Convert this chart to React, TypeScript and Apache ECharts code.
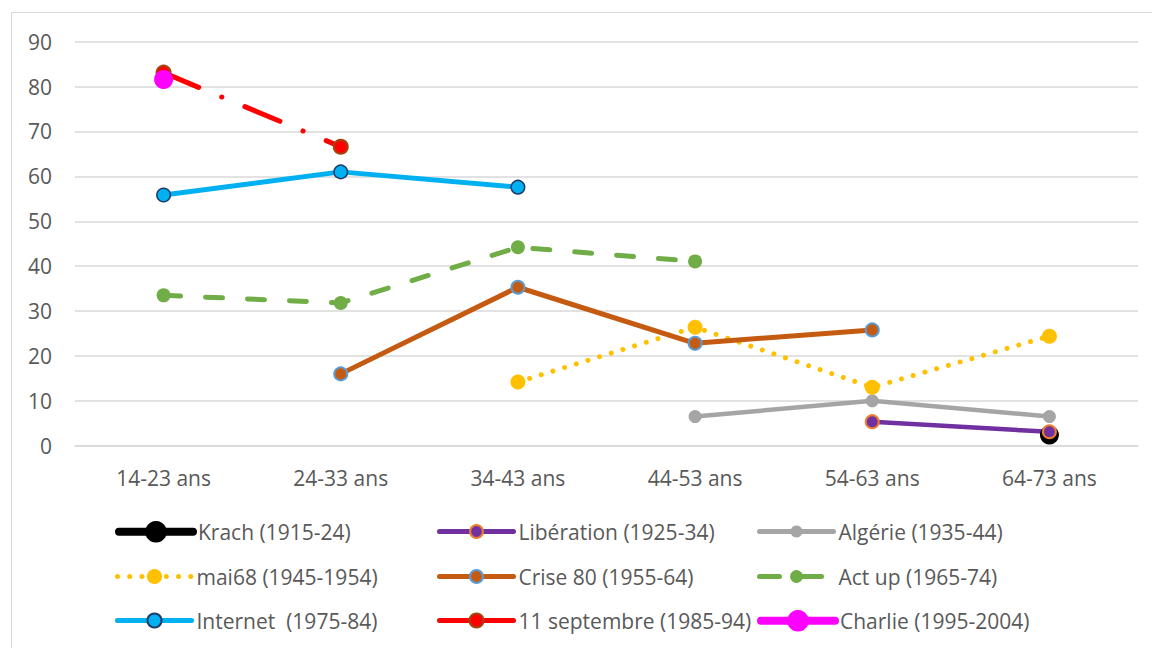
import React, { useEffect, useRef } from "react";
import * as echarts from "echarts";

const categories = ["14-23 ans", "24-33 ans", "34-43 ans", "44-53 ans", "54-63 ans", "64-73 ans"];
const yTicks = { min: 0, max: 90, interval: 10 };

const krach = [null, null, null, null, null, 2.4];
const liberation = [null, null, null, null, 5.35, 3.1];
const algerie = [null, null, null, 6.5, 10.0, 6.5];
const mai68 = [null, null, 14.2, 26.4, 13.0, 24.4];
const crise80 = [null, 16.0, 35.3, 22.8, 25.8, null];
const actup = [33.5, 31.8, 44.2, 41.05, null, null];
const internet = [55.85, 61.0, 57.6, null, null, null];
const septembre = [83.1, 66.6, null, null, null, null];
const charlie = [81.6, null, null, null, null, null];

const seriesNames = [
  "Krach (1915-24)",
  "Libération (1925-34)",
  "Algérie (1935-44)",
  "mai68 (1945-1954)",
  "Crise 80 (1955-64)",
  "Act up (1965-74)",
  "Internet  (1975-84)",
  "11 septembre (1985-94)",
  "Charlie (1995-2004)",
];

const FONT = "Open Sans";
const TEXT = "#595959";

export default function App() {
  const ref = useRef<HTMLDivElement>(null);
  useEffect(() => {
    if (!ref.current) return;
    const chart = echarts.init(ref.current, null, { renderer: "svg" });

    const mk = (
      name: string,
      data: (number | null)[],
      color: string,
      lw: number,
      size: number,
      opts: any = {}
    ) => ({
      name,
      type: "line",
      data,
      connectNulls: false,
      symbol: "circle",
      symbolSize: size,
      showSymbol: true,
      lineStyle: { color, width: lw, cap: "round", join: "round", ...(opts.lineStyle || {}) },
      itemStyle: { color, ...(opts.itemStyle || {}) },
      emphasis: { disabled: true },
      z: 2,
    });

    const series = [
      mk(seriesNames[0], krach, "#000000", 7, 19),
      mk(seriesNames[1], liberation, "#7030A0", 4.5, 13, {
        itemStyle: { borderColor: "#ED7D31", borderWidth: 2 },
      }),
      mk(seriesNames[2], algerie, "#A5A5A5", 4.5, 13),
      mk(seriesNames[3], mai68, "#FFC000", 5, 15, {
        lineStyle: { type: [0.01, 12.2], cap: "round" },
      }),
      mk(seriesNames[4], crise80, "#C55A11", 5, 13, {
        itemStyle: { borderColor: "#5B9BD5", borderWidth: 2 },
      }),
      mk(seriesNames[5], actup, "#70AD47", 5, 14, {
        lineStyle: { type: [17, 25], cap: "round" },
      }),
      mk(seriesNames[6], internet, "#00B0F0", 5, 13.5, {
        itemStyle: { borderColor: "#1F3864", borderWidth: 1.5 },
      }),
      mk(seriesNames[7], septembre, "#FF0000", 5, 14, {
        lineStyle: { type: [38, 25, 0.1, 25], cap: "round" },
        itemStyle: { borderColor: "#9E480E", borderWidth: 2 },
      }),
      mk(seriesNames[8], charlie, "#FF00FF", 7, 19),
    ];

    const legendCols = [110, 432, 752];
    const legendRows = [531, 576, 620];
    const legendItemH = [27, 16, 15, 19, 16, 16, 17.5, 17.5, 27];
    const legendLine: any[] = [
      { width: 8, type: "solid" },
      { width: 5, type: "solid" },
      { width: 5, type: "solid" },
      { width: 5, type: [0.01, 12.2] },
      { width: 5, type: "solid" },
      { width: 5, type: [20, 22] },
      { width: 5, type: "solid" },
      { width: 5, type: "solid" },
      { width: 8, type: "solid" },
    ];
    const legends = seriesNames.map((n, i) => {
      const col = i % 3;
      const row = Math.floor(i / 3);
      const h = legendItemH[i];
      return {
        data: [n],
        left: legendCols[col],
        top: legendRows[row] - 15,
        itemWidth: 74,
        itemHeight: h,
        itemGap: 0,
        selectedMode: false,
        lineStyle: { ...legendLine[i], cap: "round" },
        textStyle: { color: TEXT, fontFamily: FONT, fontSize: 21 },
      };
    });

    chart.setOption({
      animation: false,
      backgroundColor: "#ffffff",
      textStyle: { fontFamily: FONT },
      grid: { left: 75, right: 14, top: 41.7, height: 404, containLabel: false },
      xAxis: {
        type: "category",
        data: categories,
        boundaryGap: true,
        axisLine: { show: true, lineStyle: { color: "#D9D9D9", width: 1.5 } },
        axisTick: { show: false },
        axisLabel: { color: TEXT, fontFamily: FONT, fontSize: 21, margin: 22 },
      },
      yAxis: {
        type: "value",
        min: yTicks.min,
        max: yTicks.max,
        interval: yTicks.interval,
        axisLine: { show: false },
        axisTick: { show: false },
        axisLabel: { color: TEXT, fontFamily: FONT, fontSize: 21, margin: 23 },
        splitLine: { lineStyle: { color: "#D9D9D9", width: 1.5 } },
      },
      legend: legends,
      graphic: [
        {
          type: "rect",
          shape: { x: 11.5, y: 12.5, width: 1200, height: 700 },
          style: { fill: "none", stroke: "#D9D9D9", lineWidth: 1 },
          silent: true,
          z: -1,
        },
      ],
      series,
    });
    return () => chart.dispose();
  }, []);
  return (
    <div
      ref={ref}
      style={{ position: "absolute", left: 0, top: 0, width: 1152, height: 648 }}
    />
  );
}
